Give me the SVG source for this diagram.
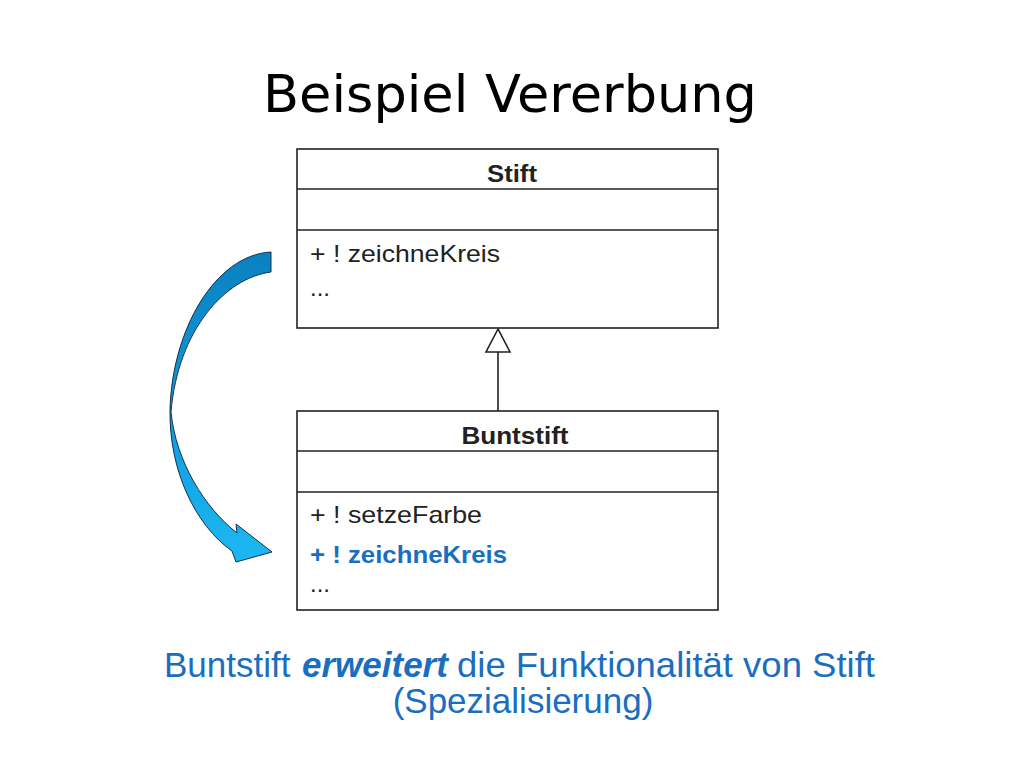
<svg xmlns="http://www.w3.org/2000/svg" width="1023" height="767" viewBox="0 0 1023 767">
<style>
.box{fill:#fff;stroke:#222;stroke-width:1.6}
.div{stroke:#222;stroke-width:1.6}
.t{font-family:"Liberation Sans",Arial,sans-serif;fill:#222}
.hdr{font-weight:bold;font-size:24px}
.op{font-size:24px}
.blue{fill:#1a6ec0}
</style>
<defs>
<linearGradient id="ag" gradientUnits="userSpaceOnUse" x1="0" y1="252" x2="0" y2="562">
<stop offset="0" stop-color="#0a80c2"/>
<stop offset="0.5" stop-color="#109ad8"/>
<stop offset="1" stop-color="#1cb8f4"/>
</linearGradient>
</defs>
<rect width="1023" height="767" fill="#fff"/>
<text x="510" y="112" text-anchor="middle" font-family="'Comic Sans MS','DejaVu Sans',sans-serif" font-size="52" textLength="494" lengthAdjust="spacingAndGlyphs" fill="#000">Beispiel Vererbung</text>

<g id="stift">
<rect class="box" x="297" y="149" width="421" height="179"/>
<line class="div" x1="297" y1="189" x2="718" y2="189"/>
<line class="div" x1="297" y1="230" x2="718" y2="230"/>
<text class="t hdr" x="512" y="182" text-anchor="middle" textLength="50" lengthAdjust="spacingAndGlyphs">Stift</text>
<text class="t op" x="310" y="262" textLength="190" lengthAdjust="spacingAndGlyphs">+ ! zeichneKreis</text>
<text class="t op" x="310" y="296">...</text>
</g>

<g id="buntstift">
<rect class="box" x="297" y="411" width="421" height="199"/>
<line class="div" x1="297" y1="451" x2="718" y2="451"/>
<line class="div" x1="297" y1="492" x2="718" y2="492"/>
<text class="t hdr" x="515" y="444" text-anchor="middle" textLength="107" lengthAdjust="spacingAndGlyphs">Buntstift</text>
<text class="t op" x="310" y="523" textLength="172" lengthAdjust="spacingAndGlyphs">+ ! setzeFarbe</text>
<text class="t op blue" x="310" y="563" font-weight="bold" font-size="22" textLength="197" lengthAdjust="spacingAndGlyphs">+ ! zeichneKreis</text>
<text class="t op" x="310" y="592">...</text>
</g>

<g id="connectors">
<line x1="498" y1="352" x2="498" y2="411" stroke="#222" stroke-width="1.6"/>
<polygon points="498,329 486,352 510,352" fill="#fff" stroke="#222" stroke-width="1.6"/>
</g>

<g id="curved-arrow">
<path d="M271,252 C215,255 172,330 170,410 C169,470 195,525 232,551 L236,562 L272,552 L236,524 L237,533 C205,508 176,462 171,412 C178,330 225,278 271,272 Z" fill="url(#ag)" stroke="#16304f" stroke-width="1"/>
</g>

<g id="caption" font-family="'Liberation Sans',Arial,sans-serif" font-size="35" fill="#1a6ec0">
<text x="164" y="677">Buntstift</text>
<text x="302" y="677" font-weight="bold" font-style="italic">erweitert</text>
<text x="457" y="677" textLength="418" lengthAdjust="spacingAndGlyphs">die Funktionalität von Stift</text>
<text x="523" y="713" text-anchor="middle">(Spezialisierung)</text>
</g>
</svg>
